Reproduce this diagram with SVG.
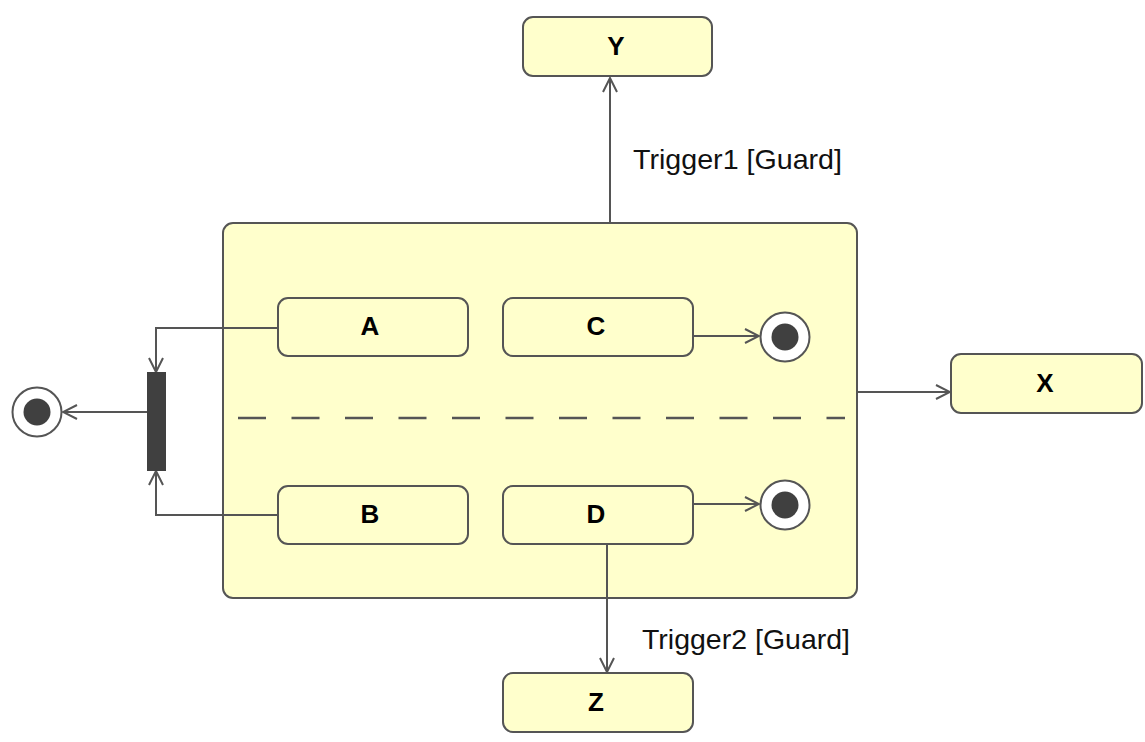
<svg xmlns="http://www.w3.org/2000/svg" width="1145" height="742" viewBox="0 0 1145 742">
  <style>
    .state { fill: #ffffcc; stroke: #555555; stroke-width: 2; }
    .name { font-family: "Liberation Sans", Arial, sans-serif; font-weight: bold; font-size: 26px; fill: #000000; text-anchor: middle; }
    .label { font-family: "Liberation Sans", Arial, sans-serif; font-size: 27.5px; fill: #111111; }
    .edge { fill: none; stroke: #555555; stroke-width: 2; }
    .ring { fill: #ffffff; stroke: #555555; stroke-width: 2; }
    .dot { fill: #404040; }
  </style>
  <defs>
    <marker id="open" viewBox="0 0 16 16" refX="15" refY="8" markerWidth="16" markerHeight="16" markerUnits="userSpaceOnUse" orient="auto">
      <path d="M1,1 L15,8 L1,15" fill="none" stroke="#555555" stroke-width="2"/>
    </marker>
  </defs>
  <rect width="1145" height="742" fill="#ffffff"/>

  <!-- composite state with two regions -->
  <g id="composite">
    <rect class="state" x="223" y="223" width="634" height="375" rx="10"/>
    <line x1="238" y1="418" x2="845" y2="418" stroke="#555555" stroke-width="2.5" stroke-dasharray="28 25.5"/>
  </g>

  <g id="connectors">
    <!-- exits from the composite -->
    <path class="edge" d="M610,223 V78" marker-end="url(#open)"/>
    <path class="edge" d="M857,392 H950" marker-end="url(#open)"/>
    <path class="edge" d="M607,544 V672" marker-end="url(#open)"/>
    <!-- into the join bar -->
    <path class="edge" d="M278,328 H156 V372" marker-end="url(#open)"/>
    <path class="edge" d="M278,515 H156 V471" marker-end="url(#open)"/>
    <path class="edge" d="M147,412 H63" marker-end="url(#open)"/>
    <!-- region finals -->
    <path class="edge" d="M693,336 H759" marker-end="url(#open)"/>
    <path class="edge" d="M693,504 H759" marker-end="url(#open)"/>
    <text class="label" x="633" y="169" textLength="209" lengthAdjust="spacingAndGlyphs">Trigger1 [Guard]</text>
    <text class="label" x="642" y="649" textLength="208" lengthAdjust="spacingAndGlyphs">Trigger2 [Guard]</text>
  </g>

  <g id="Y"><rect class="state" x="523" y="17" width="189" height="59" rx="10"/><text class="name" x="616" y="55">Y</text></g>
  <g id="X"><rect class="state" x="951" y="354" width="191" height="59" rx="10"/><text class="name" x="1045" y="392">X</text></g>
  <g id="Z"><rect class="state" x="503" y="673" width="190" height="59" rx="10"/><text class="name" x="596" y="711">Z</text></g>
  <g id="A"><rect class="state" x="278" y="298" width="190" height="58" rx="10"/><text class="name" x="370" y="335">A</text></g>
  <g id="C"><rect class="state" x="503" y="298" width="190" height="58" rx="10"/><text class="name" x="596" y="335">C</text></g>
  <g id="B"><rect class="state" x="278" y="486" width="190" height="58" rx="10"/><text class="name" x="370" y="523">B</text></g>
  <g id="D"><rect class="state" x="503" y="486" width="190" height="58" rx="10"/><text class="name" x="596" y="523">D</text></g>

  <g id="join"><rect x="147" y="372" width="19" height="99" fill="#404040"/></g>

  <g id="final-top"><circle class="ring" cx="785" cy="337" r="24.5"/><circle class="dot" cx="785" cy="337" r="13.5"/></g>
  <g id="final-bottom"><circle class="ring" cx="785" cy="505" r="24.5"/><circle class="dot" cx="785" cy="505" r="13.5"/></g>
  <g id="final-outer"><circle class="ring" cx="37" cy="412" r="24.5"/><circle class="dot" cx="37" cy="412" r="13.5"/></g>
</svg>
